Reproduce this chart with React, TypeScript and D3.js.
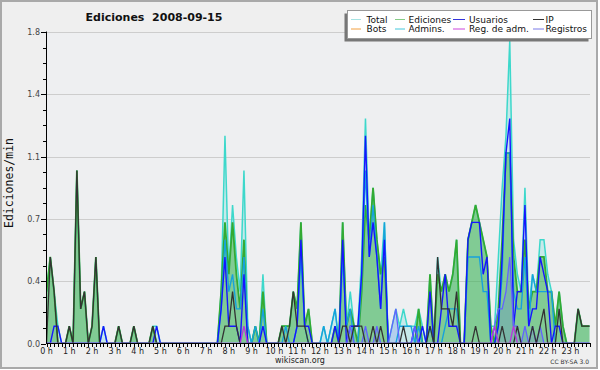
import React from 'react';
import * as d3 from 'd3';

// values in edits/min, one value per 10-minute bin (144 bins, 0h00 .. 23h50)
const total = [
  0.3,0.5,0.3,0.1,0,0,0.1,0,1.0,0.2,0.3,0,
  0.1,0.5,0,0.1,0,0,0,0.1,0,0,0,0.1,
  0,0,0,0,0.1,0.1,0,0,0,0,0,0,
  0,0,0,0,0,0,0,0,0,0,0.3,1.2,
  0.4,0.8,0.5,0.3,1.0,0.1,0,0.1,0,0.4,0,0,
  0,0,0.1,0.1,0.1,0.3,0.2,0.7,0.1,0.2,0,0,
  0,0.1,0,0.1,0.2,0,0.7,0.1,0.3,0.1,0.1,0.5,
  1.3,0.6,0.9,0.6,0.4,0.7,0,0.1,0.2,0.1,0.2,0.1,
  0.1,0.1,0.2,0.1,0,0.4,0,0.5,0.3,0.4,0.3,0.4,
  0.6,0,0,0.6,0.7,0.8,0.7,0.6,0.5,0.1,0.1,0.5,
  0.9,1.2,1.75,0.6,0.4,0.3,0.9,0.2,0.4,0.3,0.6,0.6,
  0.4,0.3,0.1,0.3,0.1,0,0,0,0.2,0.1,0.1,0.1,
];
const ediciones = [
  0.3,0.5,0.3,0,0,0,0.1,0,1.0,0.2,0.3,0,
  0.1,0.5,0,0,0,0,0,0.1,0,0,0,0.1,
  0,0,0,0,0.1,0,0,0,0,0,0,0,
  0,0,0,0,0,0,0,0,0,0,0.3,0.7,
  0.4,0.7,0.4,0.2,0.6,0,0,0.1,0,0.3,0,0,
  0,0,0.1,0.1,0.1,0.3,0.2,0.7,0.1,0.2,0,0,
  0,0,0,0,0.1,0,0.7,0.1,0.2,0.1,0,0.3,
  0.8,0.6,0.9,0.6,0.4,0.5,0,0,0,0,0,0,
  0,0,0.2,0,0,0.4,0,0.4,0.3,0.4,0.3,0.4,
  0.6,0,0,0.6,0.7,0.8,0.7,0.6,0.5,0.1,0,0.2,
  0.6,1.1,1.1,0.5,0.3,0.3,0.6,0.2,0.3,0.3,0.5,0.5,
  0.3,0.3,0.1,0.3,0.1,0,0,0,0.2,0.1,0.1,0.1,
];
const usuarios = [
  0,0,0.1,0.1,0,0,0,0,0,0,0,0,
  0,0,0,0.1,0,0,0,0,0,0,0,0,
  0,0,0,0,0,0.1,0,0,0,0,0,0,
  0,0,0,0,0,0,0,0,0,0,0.2,0.5,
  0.1,0.1,0.1,0,0.4,0,0,0,0,0.1,0,0,
  0,0,0,0,0,0,0.1,0.6,0.1,0.1,0,0,
  0,0,0,0,0.1,0,0.6,0,0.1,0.1,0.1,0.4,
  1.2,0.5,0.7,0.5,0.2,0.6,0,0,0,0,0,0,
  0,0.1,0,0.1,0,0.3,0,0,0.2,0.4,0.1,0.1,
  0.1,0,0,0.6,0.7,0.7,0.7,0.4,0.5,0,0,0.1,
  0.5,1.1,1.3,0.1,0.3,0.3,0.8,0.1,0.2,0.2,0.5,0.4,
  0.3,0,0.1,0.1,0,0,0,0,0,0,0,0,
];
const ip = [
  0,0.5,0.3,0,0,0,0.1,0,1.0,0.2,0.3,0,
  0.1,0.5,0,0,0,0,0,0.1,0,0,0,0.1,
  0,0,0,0,0.1,0,0,0,0,0,0,0,
  0,0,0,0,0,0,0,0,0,0,0,0.1,
  0.1,0.3,0.1,0,0,0,0,0,0,0,0,0,
  0,0,0.1,0,0.1,0.3,0.1,0.1,0.1,0,0,0,
  0,0,0,0,0,0,0.1,0.1,0,0.1,0.1,0.1,
  0,0,0.1,0,0.1,0,0,0,0,0,0.1,0,
  0,0,0,0,0,0.1,0,0.5,0.2,0.2,0.2,0.1,
  0.3,0,0,0,0,0.1,0,0,0,0,0,0,
  0.1,0,0,0,0.1,0,0,0,0.1,0,0.1,0.2,
  0,0,0,0.2,0,0,0,0,0.2,0.1,0.1,0.1,
];
const bots = [
  0,0,0,0,0,0,0,0,0,0,0,0,
  0,0,0,0,0,0,0,0,0,0,0,0,
  0,0,0,0,0,0,0,0,0,0,0,0,
  0,0,0,0,0,0,0,0,0,0,0,0,
  0,0,0,0,0,0,0,0,0,0,0,0,
  0,0,0,0,0,0,0,0,0,0,0,0,
  0,0,0,0,0,0,0,0,0,0,0,0,
  0,0,0,0,0,0,0,0,0,0,0,0,
  0,0,0,0,0,0,0,0,0,0,0,0,
  0,0,0,0,0,0,0,0,0,0,0,0,
  0,0,0,0,0,0,0,0,0,0,0,0,
  0,0,0,0,0,0,0,0,0,0,0,0,
];
const admins = [
  0,0,0,0,0,0,0,0,0,0,0,0,
  0,0,0,0,0,0,0,0,0,0,0,0,
  0,0,0,0,0,0,0,0,0,0,0,0,
  0,0,0,0,0,0,0,0,0,0,0.2,0.6,
  0.3,0.4,0.2,0.2,0.5,0.1,0,0.1,0,0.2,0,0,
  0,0,0,0.1,0,0,0.1,0.5,0.1,0,0,0,
  0,0.1,0,0.1,0.2,0,0.5,0.1,0.2,0,0,0.4,
  1.0,0.5,0.8,0.5,0.2,0.7,0,0,0,0.1,0.1,0.1,
  0.1,0,0.1,0,0,0.1,0,0,0,0.1,0.2,0.2,
  0.2,0,0,0.5,0.5,0.5,0.5,0.3,0.3,0,0,0.1,
  0.4,1.1,1.1,0.3,0.2,0.2,0.5,0.1,0.4,0.3,0.3,0.3,
  0.3,0.3,0,0,0,0,0,0,0,0,0,0,
];
const regAdm = [
  0,0,0,0,0,0,0,0,0,0,0,0,
  0,0,0,0,0,0,0,0,0,0,0,0,
  0,0,0,0,0,0,0,0,0,0,0,0,
  0,0,0,0,0,0,0,0,0,0,0,0,
  0,0,0,0,0.1,0,0,0,0,0,0,0,
  0,0,0,0,0,0,0,0,0,0,0,0,
  0,0,0,0,0,0,0,0,0,0,0,0,
  0,0,0,0,0,0,0,0,0,0,0,0,
  0,0,0,0,0,0,0,0,0,0,0,0,
  0,0,0,0,0,0,0,0,0,0,0.1,0,
  0,0,0,0.1,0,0,0,0,0,0,0,0,
  0,0,0,0,0,0,0,0,0,0,0,0,
];
const registros = [
  0,0,0,0,0,0,0,0,0,0,0,0,
  0,0,0,0,0,0,0,0,0,0,0,0,
  0,0,0,0,0,0,0,0,0,0,0,0,
  0,0,0,0,0,0,0,0,0,0,0,0,
  0,0,0,0,0,0,0,0,0,0,0,0,
  0,0,0,0,0,0,0,0,0,0,0,0,
  0,0,0,0,0,0,0,0,0.1,0,0,0,
  0.1,0,0,0.1,0,0,0,0.1,0.2,0,0,0,
  0,0.1,0,0,0,0,0,0,0,0,0,0,
  0,0,0,0,0,0,0,0,0,0,0.1,0.2,
  0.2,0.3,0.5,0.1,0.1,0,0.1,0,0.1,0,0.1,0,
  0,0,0,0,0,0,0,0,0,0,0,0,
];

const hourLabels = [
  '0 h','1 h','2 h','3 h','4 h','5 h','6 h','7 h','8 h','9 h','10 h','11 h',
  '12 h','13 h','14 h','15 h','16 h','17 h','18 h','19 h','20 h','21 h','22 h','23 h',
];
const yTickValues = [0, 0.36, 0.72, 1.08, 1.44, 1.8];
const yTickLabels = ['0.0', '0.4', '0.7', '1.1', '1.4', '1.8'];

const legendRows = [
  [
    { name: 'Total', color: '#a6e3e3' },
    { name: 'Ediciones', color: '#86cc86' },
    { name: 'Usuarios', color: '#3434dc' },
    { name: 'IP', color: '#333333' },
  ],
  [
    { name: 'Bots', color: '#f2a040' },
    { name: 'Admins.', color: '#44c8dc' },
    { name: 'Reg. de adm.', color: '#cc44dd' },
    { name: 'Registros', color: '#7a7ae8' },
  ],
];

const FONT = 'DejaVu Sans, Verdana, sans-serif';

export default function App() {
  const x = d3.scaleLinear().domain([0, 143]).range([46.5, 589.5]);
  const y = d3.scaleLinear().domain([0, 1.8]).range([343.5, 32]);
  const lineGen = d3.line<number>().x((_, i) => x(i)).y((d) => y(d));
  const areaGen = d3.area<number>().x((_, i) => x(i)).y0(y(0)).y1((d) => y(d));

  const minorY = d3.range(0, 21).map((k) => k * 0.09);
  const binTicks = d3.range(0, 144);

  const legendCols = [
    { sx: 351, tx: 366.5, w: 10 },
    { sx: 395, tx: 408.5, w: 10 },
    { sx: 453, tx: 469, w: 12 },
    { sx: 533, tx: 545.5, w: 11 },
  ];

  return (
    <svg
      width={600}
      height={370}
      style={{ position: 'absolute', left: 0, top: 0, display: 'block' }}
      xmlns="http://www.w3.org/2000/svg"
    >
      <defs>
        <clipPath id="plotClip">
          <rect x={46} y={0} width={546} height={342.7} />
        </clipPath>
      </defs>
      <rect x={0} y={0} width={600} height={370} fill="#ffffff" />
      <rect x={1} y={1} width={596} height={367} fill="#efefef" stroke="#a9a9a9" strokeWidth={2} />
      <rect x={46} y={32} width={544} height={311} fill="#eeeff1" />

      {/* grid */}
      {yTickValues.slice(1).map((v) => (
        <line key={'g' + v} x1={46} x2={590} y1={Math.round(y(v)) + 0.5} y2={Math.round(y(v)) + 0.5} stroke="#cdcdcd" strokeWidth={1} />
      ))}

      <g clipPath="url(#plotClip)">
        {/* areas */}
        <path d={areaGen(total) || ''} fill="rgba(64,216,208,0.22)" stroke="none" />
        <path d={areaGen(ediciones) || ''} fill="rgba(51,170,51,0.47)" stroke="none" />
        <path d={areaGen(registros) || ''} fill="rgba(90,90,255,0.18)" stroke="none" />

        {/* lines */}
        <path d={lineGen(bots) || ''} fill="none" stroke="#ff9933" strokeWidth={1.2} />
        <path d={lineGen(total) || ''} fill="none" stroke="#3dd8cb" strokeWidth={1.5} />
        <path d={lineGen(ediciones) || ''} fill="none" stroke="#33aa33" strokeWidth={1.8} />
        <path d={lineGen(admins) || ''} fill="none" stroke="#16a2dc" strokeWidth={1.4} />
        <path d={lineGen(usuarios) || ''} fill="none" stroke="#1515ff" strokeWidth={1.4} />
        <path d={lineGen(registros) || ''} fill="none" stroke="#6262ff" strokeWidth={1.3} />
        <path d={lineGen(ip) || ''} fill="none" stroke="#333333" strokeWidth={1.3} />
        <path d={lineGen(regAdm) || ''} fill="none" stroke="#bb33dd" strokeWidth={1.3} />
      </g>

      {/* y axis */}
      <line x1={46.5} x2={46.5} y1={31.5} y2={344} stroke="#000" strokeWidth={1} />
      {minorY.map((v, k) => (
        <line key={'my' + k} x1={k % 4 === 0 ? 41 : 43} x2={46} y1={Math.round(y(v)) + 0.5} y2={Math.round(y(v)) + 0.5} stroke="#000" strokeWidth={1} />
      ))}
      {yTickValues.map((v, k) => (
        <text key={'yl' + k} x={40} y={y(v) + 3} fontSize={8} fontFamily={FONT} fill="#444" textAnchor="end">
          {yTickLabels[k]}
        </text>
      ))}
      <text
        transform="translate(13,183) rotate(-90)"
        fontSize={11.5}
        fontFamily="DejaVu Sans Mono, monospace"
        fill="#111"
        textAnchor="middle"
      >
        Ediciones/min
      </text>

      {/* x axis */}
      <line x1={46} x2={590} y1={343.5} y2={343.5} stroke="#000" strokeWidth={1} />
      {binTicks.map((b) => (
        <line key={'xt' + b} x1={Math.round(x(b)) + 0.5} x2={Math.round(x(b)) + 0.5} y1={343} y2={347} stroke="#000" strokeWidth={1} />
      ))}
      {hourLabels.map((lab, h) => (
        <text key={'xl' + h} x={x(h * 6)} y={354} fontSize={8} fontFamily={FONT} fill="#222" textAnchor="middle">
          {lab}
        </text>
      ))}

      {/* title */}
      <text x={154} y={21} fontSize={11} fontWeight="bold" fontFamily={FONT} fill="#111" textAnchor="middle" style={{ whiteSpace: 'pre' }}>
        {'Ediciones  2008-09-15'}
      </text>

      {/* legend */}
      <rect x={344.5} y={13.5} width={244} height={28} fill="#777" />
      <rect x={347.5} y={10.5} width={244} height={28} fill="#ffffff" stroke="#999" strokeWidth={1} />
      {legendRows.map((row, r) =>
        row.map((item, c) => {
          const cy = r === 0 ? 19.5 : 29;
          const col = legendCols[c];
          return (
            <g key={'lg' + r + c}>
              <line x1={col.sx} x2={col.sx + col.w} y1={cy} y2={cy} stroke={item.color} strokeWidth={1} />
              <text x={col.tx} y={cy + 3.3} fontSize={9} fontFamily={FONT} fill="#111">
                {item.name}
              </text>
            </g>
          );
        })
      )}

      {/* footer */}
      <text x={300} y={363} fontSize={8} fontFamily={FONT} fill="#222" textAnchor="middle">
        wikiscan.org
      </text>
      <text x={589} y={364} fontSize={6} fontFamily={FONT} fill="#333" textAnchor="end">
        CC BY-SA 3.0
      </text>
    </svg>
  );
}
